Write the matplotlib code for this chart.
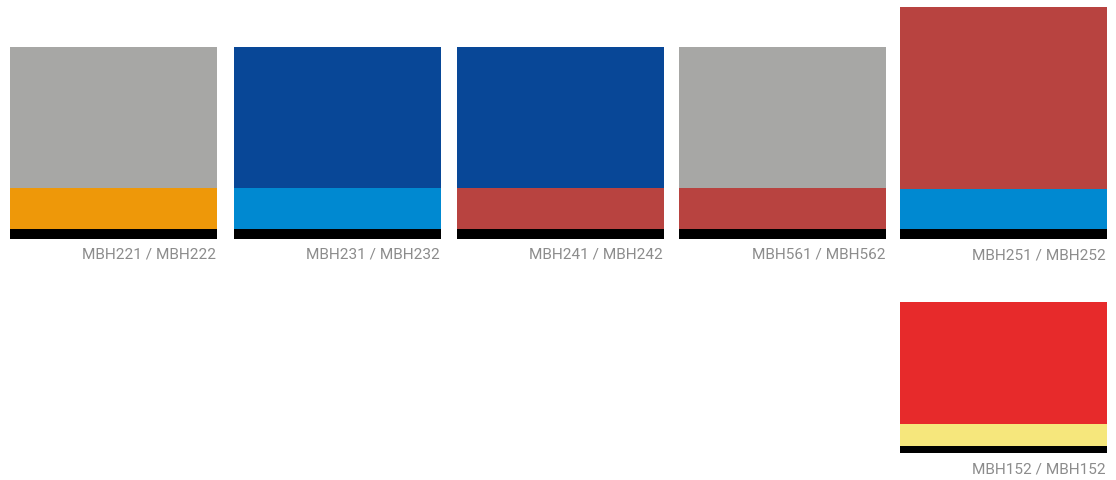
import matplotlib

matplotlib.use("Agg")
import matplotlib.pyplot as plt

plt.rcParams["font.family"] = ["Roboto", "DejaVu Sans"]

# swatch data
labels = [
    "MBH221 / MBH222",
    "MBH231 / MBH232",
    "MBH241 / MBH242",
    "MBH561 / MBH562",
    "MBH251 / MBH252",
    "MBH152 / MBH152",
]
main_colors = ["#a7a7a5", "#084797", "#084797", "#a7a7a5", "#b84340", "#e72a2b"]
accent_colors = ["#ee9809", "#0089d1", "#b84340", "#b84340", "#0089d1", "#f6e77c"]
stripe_color = "#000000"

# layout in pixels (figure is 1116 x 480)
x_left = [10, 234, 457, 679, 900, 900]
width = 207
top = [47, 47, 47, 47, 7, 302]
main_h = [141, 141, 141, 141, 182, 122]
accent_h = [40.5, 40.5, 40.5, 40.5, 40, 22]
stripe_h = [10, 10, 10, 10, 10, 7]
label_gap = 20

fig = plt.figure(figsize=(11.16, 4.8), dpi=100)
ax = fig.add_axes([0, 0, 1, 1])
ax.set_xlim(0, 1116)
ax.set_ylim(480, 0)
ax.axis("off")

for i, label in enumerate(labels):
    y = top[i]
    ax.bar(x_left[i], main_h[i], width, bottom=y, align="edge", color=main_colors[i], linewidth=0)
    y += main_h[i]
    ax.bar(x_left[i], accent_h[i], width, bottom=y, align="edge", color=accent_colors[i], linewidth=0)
    y += accent_h[i]
    ax.bar(x_left[i], stripe_h[i], width, bottom=y, align="edge", color=stripe_color, linewidth=0)
    y += stripe_h[i]
    ax.text(x_left[i] + width - 1, y + label_gap, label, ha="right", va="baseline",
            fontsize=11.1, color="#8c8c8c")

fig.savefig("out.png", dpi=100)
plt.close(fig)
